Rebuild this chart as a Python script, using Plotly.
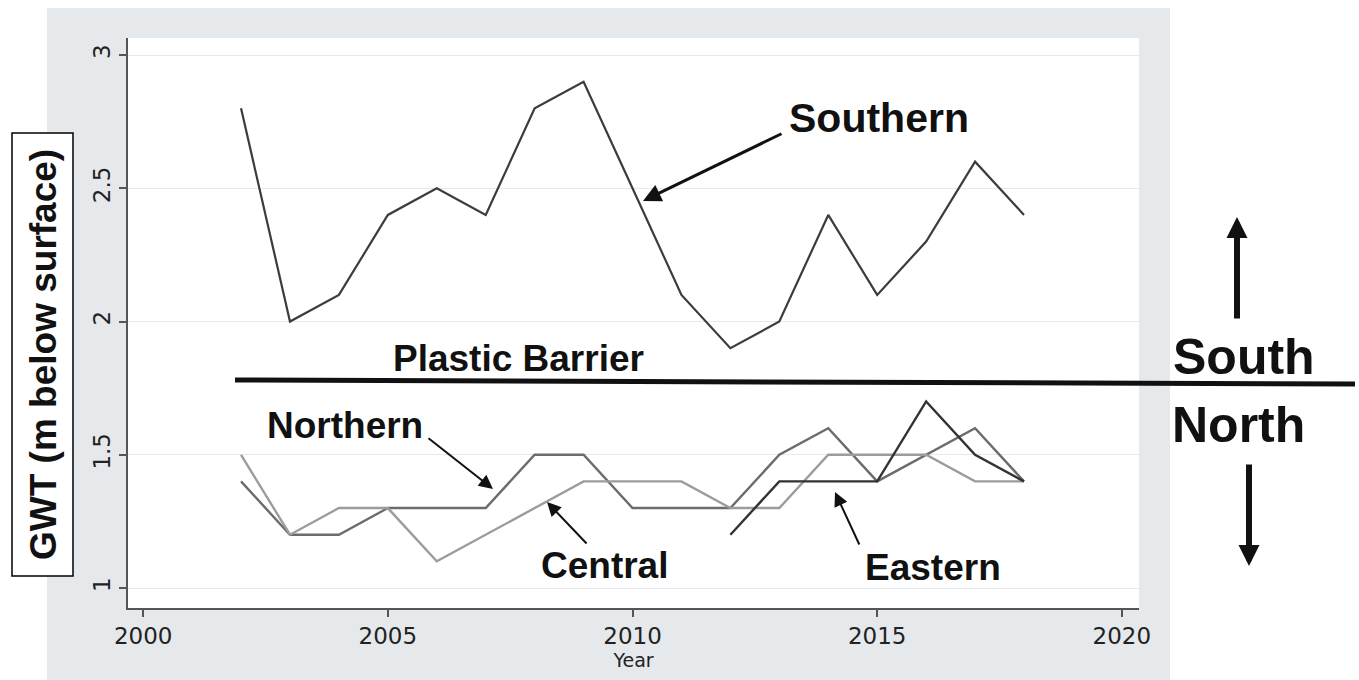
import plotly.graph_objects as go

# ---- data ----
years = list(range(2002, 2019))
southern = [2.8, 2.0, 2.1, 2.4, 2.5, 2.4, 2.8, 2.9, 2.5, 2.1, 1.9, 2.0, 2.4, 2.1, 2.3, 2.6, 2.4]
northern = [1.4, 1.2, 1.2, 1.3, 1.3, 1.3, 1.5, 1.5, 1.3, 1.3, 1.3, 1.5, 1.6, 1.4, 1.5, 1.6, 1.4]
central = [1.5, 1.2, 1.3, 1.3, 1.1, 1.2, 1.3, 1.4, 1.4, 1.4, 1.3, 1.3, 1.5, 1.5, 1.5, 1.4, 1.4]
eastern_years = list(range(2012, 2019))
eastern = [1.2, 1.4, 1.4, 1.4, 1.7, 1.5, 1.4]

x_ticks = [2000, 2005, 2010, 2015, 2020]
y_ticks = [1, 1.5, 2, 2.5, 3]

# ---- geometry helpers (pixel -> paper) ----
W, H = 1359, 680
L, R, T, B = 128, 1139, 38, 608


def px(x):
    return (x - L) / (R - L)


def py(y):
    return (B - y) / (B - T)


fig = go.Figure()
fig.add_trace(go.Scatter(x=years, y=southern, mode="lines", line=dict(color="#3c3c3c", width=2.2), name="Southern"))
fig.add_trace(go.Scatter(x=years, y=northern, mode="lines", line=dict(color="#6c6c6c", width=2.4), name="Northern"))
fig.add_trace(go.Scatter(x=years, y=central, mode="lines", line=dict(color="#9c9c9c", width=2.4), name="Central"))
fig.add_trace(go.Scatter(x=eastern_years, y=eastern, mode="lines", line=dict(color="#333333", width=2.4), name="Eastern"))

tickfont = dict(family="DejaVu Sans", size=23, color="#222")
fig.update_xaxes(range=[1999.69, 2020.35], tickvals=x_ticks, ticktext=[str(v) for v in x_ticks],
                 showgrid=False, zeroline=False, showline=True, linecolor="#555", linewidth=1.6,
                 ticks="outside", ticklen=7, tickcolor="#555", tickwidth=1.5, tickfont=tickfont,
                 title=dict(text="Year", font=dict(family="DejaVu Sans", size=19, color="#222"), standoff=0))
fig.update_yaxes(range=[0.925, 3.064], tickvals=y_ticks, ticktext=["1", "1.5", "2", "2.5", "3"],
                 showgrid=True, gridcolor="#e3e9ef", gridwidth=1.2, zeroline=False,
                 showline=True, linecolor="#555", linewidth=1.6, ticks="outside", ticklen=7,
                 tickcolor="#555", tickwidth=1.5, tickangle=-90, tickfont=tickfont)

shapes = [
    # gray panel
    dict(type="rect", xref="paper", yref="paper", x0=px(47), x1=px(1170), y0=py(680), y1=py(8),
         fillcolor="#e6e9ec", line=dict(width=0), layer="below"),
    # white plot region
    dict(type="rect", xref="paper", yref="paper", x0=0, x1=1, y0=0, y1=1,
         fillcolor="white", line=dict(width=0), layer="below"),
    # y label box
    dict(type="rect", xref="paper", yref="paper", x0=px(12), x1=px(73), y0=py(576), y1=py(133),
         fillcolor="white", line=dict(color="black", width=1.5)),
    # plastic barrier line
    dict(type="line", xref="paper", yref="paper", x0=px(235), x1=px(1355), y0=py(380), y1=py(384),
         line=dict(color="#111", width=5)),
]

annotations = []
bold = "Liberation Sans"


def label(text, x, y, size):
    annotations.append(dict(text="<b>%s</b>" % text, x=px(x), y=py(y), xref="paper", yref="paper",
                            showarrow=False, xanchor="center", yanchor="middle",
                            font=dict(family=bold, size=size, color="#111")))


label("Southern", 879, 118, 41)
label("Plastic Barrier", 518, 358, 37)
label("Northern", 345, 425, 37)
label("Central", 604, 565, 37)
label("Eastern", 933, 567, 37)
label("South", 1244, 357, 50)
label("North", 1238, 425, 50)

annotations.append(dict(text="<b>GWT (m below surface)</b>", x=px(43), y=py(355), xref="paper", yref="paper",
                        showarrow=False, textangle=-90, xanchor="center", yanchor="middle",
                        font=dict(family=bold, size=37, color="#111")))


def arrow(tail, head, width, size):
    annotations.append(dict(text="", x=px(head[0]), y=py(head[1]), xref="paper", yref="paper",
                            ax=tail[0] - head[0], ay=tail[1] - head[1], axref="pixel", ayref="pixel",
                            showarrow=True, arrowhead=2, arrowwidth=width, arrowsize=size,
                            arrowcolor="#111"))


arrow((783, 133), (643, 201), 3, 1.2)
arrow((427, 437), (493, 489), 2, 1.4)
arrow((588, 545), (547, 502), 2, 1.4)
arrow((860, 546), (835, 492), 2, 1.4)
arrow((1237, 320), (1237, 217), 6, 0.7)
arrow((1249, 463), (1249, 566), 6, 0.7)

fig.update_layout(width=W, height=H, margin=dict(l=L, r=W - R, t=T, b=H - B),
                  paper_bgcolor="white", plot_bgcolor="white", showlegend=False,
                  shapes=shapes, annotations=annotations)

fig.write_html("out.html")
